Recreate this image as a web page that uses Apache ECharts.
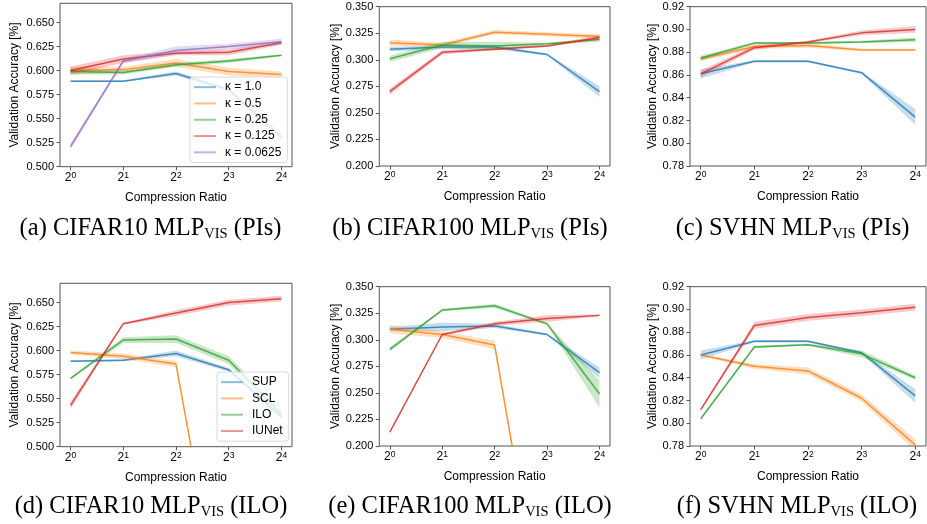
<!DOCTYPE html>
<html><head><meta charset="utf-8">
<script src="https://cdn.jsdelivr.net/npm/echarts@6/dist/echarts.min.js"></script>
<style>html,body{margin:0;padding:0;background:#fff}#c{width:927px;height:524px}</style>
</head><body><div id="c"></div>
<script>
// ---------- data ----------
const xExponents = [0, 1, 2, 3, 4];
const kappaLabels = ['κ = 1.0', 'κ = 0.5', 'κ = 0.25', 'κ = 0.125', 'κ = 0.0625'];
const methodLabels = ['SUP', 'SCL', 'ILO', 'IUNet'];
const captionTexts = [
  ['(a) CIFAR10 MLP', 'VIS', ' (PIs)'],
  ['(b) CIFAR100 MLP', 'VIS', ' (PIs)'],
  ['(c) SVHN MLP', 'VIS', ' (PIs)'],
  ['(d) CIFAR10 MLP', 'VIS', ' (ILO)'],
  ['(e) CIFAR100 MLP', 'VIS', ' (ILO)'],
  ['(f) SVHN MLP', 'VIS', ' (ILO)']
];
const yTicksCifar10 = [0.500, 0.525, 0.550, 0.575, 0.600, 0.625, 0.650];
const yTicksCifar100 = [0.200, 0.225, 0.250, 0.275, 0.300, 0.325, 0.350];
const yTicksSvhn = [0.78, 0.80, 0.82, 0.84, 0.86, 0.88, 0.90, 0.92];

// (a) CIFAR10 PIs
const a_k1    = [0.589, 0.589, 0.597, 0.580, 0.531];
const a_k05   = [0.600, 0.601, 0.608, 0.599, 0.596];
const a_k025  = [0.599, 0.598, 0.606, 0.610, 0.616];
const a_k0125 = [0.600, 0.612, 0.618, 0.619, 0.629];
const a_k0625 = [0.521, 0.610, 0.621, 0.625, 0.630];
const a_e1    = [0.001, 0.001, 0.002, 0.002, 0.004];
const a_e05   = [0.004, 0.003, 0.004, 0.004, 0.003];
const a_e025  = [0.003, 0.002, 0.002, 0.002, 0.001];
const a_e0125 = [0.004, 0.004, 0.002, 0.003, 0.002];
const a_e0625 = [0.003, 0.002, 0.004, 0.003, 0.003];
// (b) CIFAR100 PIs
const b_k1    = [0.310, 0.312, 0.312, 0.305, 0.270];
const b_k05   = [0.316, 0.314, 0.326, 0.324, 0.322];
const b_k025  = [0.301, 0.314, 0.313, 0.315, 0.319];
const b_k0125 = [0.270, 0.307, 0.310, 0.313, 0.321];
const b_e1    = [0.002, 0.002, 0.002, 0.001, 0.005];
const b_e05   = [0.003, 0.002, 0.002, 0.002, 0.002];
const b_e025  = [0.003, 0.003, 0.004, 0.001, 0.002];
const b_e0125 = [0.003, 0.002, 0.001, 0.001, 0.002];
// (c) SVHN PIs
const c_k1    = [0.861, 0.872, 0.872, 0.862, 0.823];
const c_k05   = [0.874, 0.885, 0.886, 0.882, 0.882];
const c_k025  = [0.875, 0.888, 0.888, 0.889, 0.891];
const c_k0125 = [0.861, 0.884, 0.889, 0.897, 0.900];
const c_e1    = [0.004, 0.001, 0.001, 0.001, 0.007];
const c_e05   = [0.002, 0.002, 0.002, 0.001, 0.001];
const c_e025  = [0.002, 0.001, 0.001, 0.001, 0.002];
const c_e0125 = [0.003, 0.002, 0.001, 0.002, 0.003];
// (d) CIFAR10 ILO
const d_sup   = [0.589, 0.590, 0.597, 0.580, 0.531];
const d_scl   = [0.598, 0.594, 0.586, 0.284, 0.280];
const d_ilo   = [0.571, 0.611, 0.612, 0.590, 0.534];
const d_iunet = [0.543, 0.628, 0.639, 0.650, 0.654];
const d_esup  = [0.001, 0.001, 0.003, 0.002, 0.003];
const d_escl  = [0.002, 0.003, 0.003, 0.003, 0.003];
const d_eilo  = [0.001, 0.003, 0.004, 0.004, 0.004];
const d_eiun  = [0.004, 0.001, 0.003, 0.003, 0.003];
// (e) CIFAR100 ILO
const e_sup   = [0.310, 0.312, 0.313, 0.305, 0.269];
const e_scl   = [0.310, 0.305, 0.295, 0.010, 0.010];
const e_ilo   = [0.291, 0.328, 0.332, 0.315, 0.249];
const e_iunet = [0.213, 0.305, 0.315, 0.320, 0.323];
const e_esup  = [0.002, 0.004, 0.002, 0.001, 0.005];
const e_escl  = [0.004, 0.003, 0.004, 0.003, 0.003];
const e_eilo  = [0.002, 0.001, 0.002, 0.001, 0.013];
const e_eiun  = [0.001, 0.001, 0.002, 0.003, 0.001];
// (f) SVHN ILO
const f_sup   = [0.860, 0.872, 0.872, 0.862, 0.824];
const f_scl   = [0.860, 0.850, 0.846, 0.822, 0.781];
const f_ilo   = [0.804, 0.867, 0.869, 0.861, 0.840];
const f_iunet = [0.812, 0.886, 0.893, 0.897, 0.902];
const f_esup  = [0.004, 0.001, 0.001, 0.001, 0.006];
const f_escl  = [0.001, 0.002, 0.003, 0.003, 0.005];
const f_eilo  = [0.001, 0.001, 0.001, 0.003, 0.002];
const f_eiun  = [0.001, 0.003, 0.003, 0.003, 0.003];

// ---------- panel assembly ----------
const panels = [
  {names: kappaLabels, values: [a_k1, a_k05, a_k025, a_k0125, a_k0625], errs: [a_e1, a_e05, a_e025, a_e0125, a_e0625], yTicks: yTicksCifar10, yMin: 0.5, yMax: 0.67, dec: 3},
  {names: kappaLabels, values: [b_k1, b_k05, b_k025, b_k0125], errs: [b_e1, b_e05, b_e025, b_e0125], yTicks: yTicksCifar100, yMin: 0.2, yMax: 0.35, dec: 3},
  {names: kappaLabels, values: [c_k1, c_k05, c_k025, c_k0125], errs: [c_e1, c_e05, c_e025, c_e0125], yTicks: yTicksSvhn, yMin: 0.78, yMax: 0.92, dec: 2},
  {names: methodLabels, values: [d_sup, d_scl, d_ilo, d_iunet], errs: [d_esup, d_escl, d_eilo, d_eiun], yTicks: yTicksCifar10, yMin: 0.5, yMax: 0.67, dec: 3},
  {names: methodLabels, values: [e_sup, e_scl, e_ilo, e_iunet], errs: [e_esup, e_escl, e_eilo, e_eiun], yTicks: yTicksCifar100, yMin: 0.2, yMax: 0.35, dec: 3},
  {names: methodLabels, values: [f_sup, f_scl, f_ilo, f_iunet], errs: [f_esup, f_escl, f_eilo, f_eiun], yTicks: yTicksSvhn, yMin: 0.78, yMax: 0.92, dec: 2}
];

// ---------- layout & style ----------
const layouts = [
  {left: 60,    top: 3.3,   width: 232,   height: 163.4, nameGapY: 39},
  {left: 379.3, top: 6.7,   width: 230.7, height: 159.3, nameGapY: 38},
  {left: 690,   top: 6.7,   width: 236,   height: 159.3, nameGapY: 30},
  {left: 60,    top: 283.3, width: 232,   height: 163.4, nameGapY: 39},
  {left: 379.3, top: 286.7, width: 230.7, height: 159.3, nameGapY: 38},
  {left: 690,   top: 286.7, width: 236,   height: 159.3, nameGapY: 30}
];
const captionPos = [[150.5, 229], [470, 229], [792.5, 229], [151, 507], [470, 507], [797, 507]];
const COLORS = ['#1f77b4', '#ff7f0e', '#2ca02c', '#d62728', '#9467bd'];
const SANS = 'Liberation Sans';
const SERIF = 'Liberation Serif';
const AXC = '#555';
function rgba(hex, a) {
  const n = parseInt(hex.slice(1), 16);
  return 'rgba(' + (n >> 16 & 255) + ',' + (n >> 8 & 255) + ',' + (n & 255) + ',' + a + ')';
}

const grids = [], xAxes = [], yAxes = [], series = [];
panels.forEach((p, pi) => {
  const L = layouts[pi];
  grids.push({left: L.left, top: L.top, width: L.width, height: L.height, show: true,
    borderColor: AXC, borderWidth: 1, backgroundColor: 'transparent', containLabel: false});
  xAxes.push({gridIndex: pi, type: 'value', position: 'bottom', min: -0.2, max: 4.2,
    axisLine: {show: false, onZero: false}, splitLine: {show: false},
    axisTick: {show: true, inside: false, length: 3.5, lineStyle: {color: AXC}, customValues: xExponents},
    axisLabel: {customValues: xExponents, margin: 4,
      formatter: v => '{b|2}{s|' + Math.round(v) + '}',
      rich: {b: {fontSize: 12, fontFamily: SANS, color: '#000'},
             s: {fontSize: 8.5, fontFamily: SANS, color: '#000', verticalAlign: 'top', padding: [0, 0, 4, 0]}}},
    name: 'Compression Ratio', nameLocation: 'middle', nameGap: 25,
    nameTextStyle: {fontSize: 12, fontFamily: SANS, color: '#000'}});
  yAxes.push({gridIndex: pi, type: 'value', position: 'left', min: p.yMin, max: p.yMax,
    axisLine: {show: false, onZero: false}, splitLine: {show: false},
    axisTick: {show: true, inside: false, length: 3.5, lineStyle: {color: AXC}, customValues: p.yTicks},
    axisLabel: {customValues: p.yTicks, margin: 6, formatter: v => v.toFixed(p.dec),
      fontSize: 11, fontFamily: SANS, color: '#000'},
    name: 'Validation Accuracy [%]', nameLocation: 'middle', nameGap: L.nameGapY,
    nameTextStyle: {fontSize: 12, fontFamily: SANS, color: '#000'}});

  p.values.forEach((vals, si) => {
    const err = p.errs[si];
    const col = COLORS[si];
    series.push({
      type: 'custom', name: 'band' + pi + '_' + si, xAxisIndex: pi, yAxisIndex: pi,
      clip: true, silent: true, z: 2 + si * 2,
      data: xExponents.map((x, j) => [x, vals[j] - err[j], vals[j] + err[j]]),
      encode: {x: 0, y: [1, 2]},
      renderItem: (params, api) => {
        if (params.dataIndex !== 0) return null;
        const pts = [];
        xExponents.forEach((x, j) => pts.push(api.coord([x, vals[j] + err[j]])));
        for (let j = xExponents.length - 1; j >= 0; j--) pts.push(api.coord([xExponents[j], vals[j] - err[j]]));
        return {type: 'polygon', shape: {points: pts}, style: {fill: rgba(col, 0.25), stroke: null}};
      }
    });
    series.push({
      type: 'line', name: p.names[si], xAxisIndex: pi, yAxisIndex: pi,
      data: xExponents.map((x, j) => [x, vals[j]]),
      showSymbol: false, symbol: 'none', silent: true, z: 3 + si * 2,
      itemStyle: {color: col},
      lineStyle: {width: 1.5, color: col, opacity: 0.8}
    });
  });
});

function legendCfg(names, left, top) {
  return {show: true, orient: 'vertical', left: left, top: top, selectedMode: false,
    data: names.map((n, i) => ({name: n, icon: 'rect', itemStyle: {color: rgba(COLORS[i], 0.5)}})),
    itemWidth: 22, itemHeight: 2, itemGap: 0, padding: [2, 6, 2, 4],
    borderColor: '#d8d8d8', borderWidth: 1, borderRadius: 3,
    backgroundColor: 'rgba(255,255,255,0.8)', z: 20,
    textStyle: {fontSize: 12, fontFamily: SANS, color: '#000', lineHeight: 16.3, padding: [0, 0, 0, 4]}};
}

const graphics = captionTexts.map((c, i) => ({
  type: 'text', x: captionPos[i][0], y: captionPos[i][1], silent: true,
  style: {
    text: '{m|' + c[0] + '}{s|' + c[1] + '}{m|' + c[2] + '}',
    align: 'center', verticalAlign: 'middle',
    rich: {
      m: {fontFamily: SERIF, fontSize: 24.5, fill: '#000', color: '#000'},
      s: {fontFamily: SERIF, fontSize: 14.5, fill: '#000', color: '#000', verticalAlign: 'bottom'}
    }
  }
}));

const chart = echarts.init(document.getElementById('c'), null, {renderer: 'canvas', width: 927, height: 524});
chart.setOption({
  animation: false,
  backgroundColor: '#fff',
  grid: grids, xAxis: xAxes, yAxis: yAxes, series: series,
  legend: [legendCfg(kappaLabels, 190, 77), legendCfg(methodLabels, 217, 372)],
  graphic: graphics
});
</script></body></html>
